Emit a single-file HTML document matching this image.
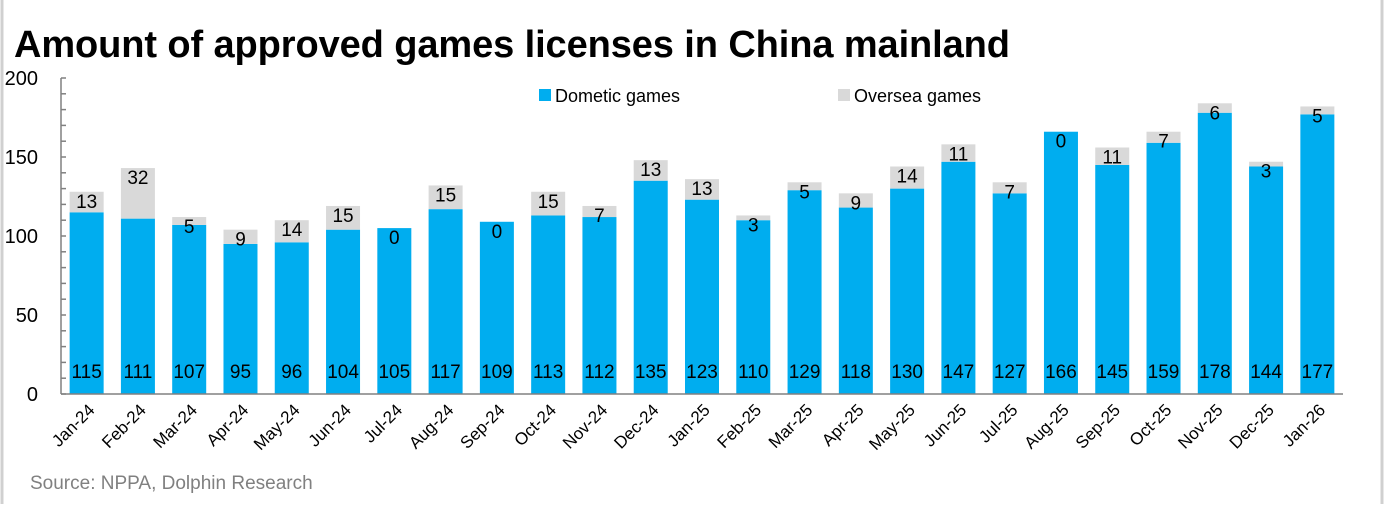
<!DOCTYPE html>
<html><head><meta charset="utf-8"><style>
body{margin:0;background:#fff;width:1384px;height:504px;overflow:hidden;font-family:"Liberation Sans","Noto Sans CJK SC",sans-serif}
svg text{font-family:"Liberation Sans","Noto Sans CJK SC",sans-serif}
</style></head><body>
<svg width="1384" height="504">
<line x1="2" y1="0" x2="2" y2="504" stroke="#d0d0d0" stroke-width="3"/>
<line x1="1382" y1="0" x2="1382" y2="504" stroke="#d0d0d0" stroke-width="3"/>
<text x="14" y="57" font-size="38" font-weight="bold" fill="#000" textLength="996">Amount of approved games licenses in China mainland</text>
<g>
<rect x="539" y="89" width="12" height="12" fill="#00adef"/>
<text x="555" y="102" font-size="18">Dometic games</text>
<rect x="838" y="89" width="12" height="12" fill="#d9d9d9"/>
<text x="854" y="102" font-size="18">Oversea games</text>
</g>
<g id="plot"></g>
<text x="30" y="489" font-size="19" fill="#808080">Source:  NPPA, Dolphin Research</text>
</svg>
<script>
const categories=["Jan-24","Feb-24","Mar-24","Apr-24","May-24","Jun-24","Jul-24","Aug-24","Sep-24","Oct-24","Nov-24","Dec-24","Jan-25","Feb-25","Mar-25","Apr-25","May-25","Jun-25","Jul-25","Aug-25","Sep-25","Oct-25","Nov-25","Dec-25","Jan-26"];
const domestic=[115,111,107,95,96,104,105,117,109,113,112,135,123,110,129,118,130,147,127,166,145,159,178,144,177];
const oversea=[13,32,5,9,14,15,0,15,0,15,7,13,13,3,5,9,14,11,7,0,11,7,6,3,5];
const yTicks=[0,50,100,150,200];
const NS="http://www.w3.org/2000/svg";
const g=document.getElementById('plot');
const x0=61,x1=1343,yB=394,yT=78,yMax=200;
const step=(x1-x0)/categories.length,bw=34;
const y=v=>yB-(v/yMax)*(yB-yT);
const xc=i=>x0+step*(i+0.5);
function el(t,a){const e=document.createElementNS(NS,t);for(const k in a)e.setAttribute(k,a[k]);g.appendChild(e);return e;}
for(let v=0;v<=yMax;v+=10){const t=el('line',{x1:x0,x2:x0+5,y1:y(v),y2:y(v),stroke:'#808080','stroke-width':1.5});

}
yTicks.forEach(v=>{const t=el('text',{x:38,y:y(v)+7,'font-size':20,'text-anchor':'end'});t.textContent=v;

});
categories.forEach((c,i)=>{
const cx=xc(i);
const b=el('rect',{x:cx-bw/2,y:y(domestic[i]),width:bw,height:yB-y(domestic[i]),fill:'#00adef'});


const o=el('rect',{x:cx-bw/2,y:y(domestic[i]+oversea[i]),width:bw,height:y(domestic[i])-y(domestic[i]+oversea[i]),fill:'#d9d9d9'});


const dl=el('text',{x:cx,y:378,'font-size':19,'text-anchor':'middle'});dl.textContent=domestic[i];


const ol=el('text',{x:cx,y:y(domestic[i]+oversea[i])+16,'font-size':19,'text-anchor':'middle'});ol.textContent=oversea[i];


const xl=el('text',{x:cx+9,y:411,'font-size':17,'text-anchor':'end',transform:`rotate(-45 ${cx+9} 411)`});xl.textContent=c;


});
const ya=el('line',{x1:x0,x2:x0,y1:yT,y2:yB,stroke:'#808080','stroke-width':1.5});


const xa=el('line',{x1:x0,x2:x1,y1:yB,y2:yB,stroke:'#808080','stroke-width':1.5});


</script>
</body></html>
